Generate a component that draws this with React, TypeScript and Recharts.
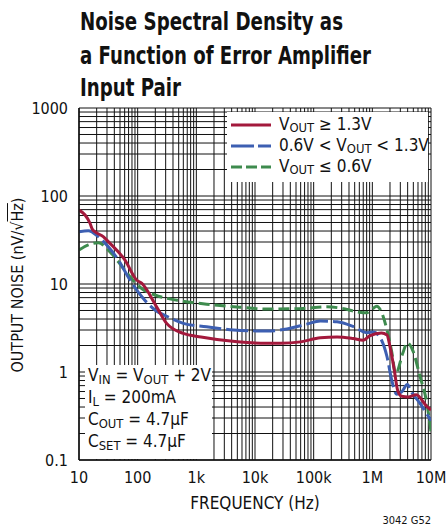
import { CartesianGrid, ComposedChart, Line, XAxis, YAxis } from "recharts";

const FONT = '"Liberation Sans Narrow", "DejaVu Sans Condensed", "Roboto Condensed", Roboto, sans-serif';

// frequency (Hz) / output noise (nV/rtHz)
const hiFreq = [10, 12.7, 15.4, 16.9, 18.7, 25.9, 31.6, 60.8, 96, 117, 210, 312, 600, 1200, 5000, 16000, 27000, 60000, 130000, 250000, 470000, 700000, 900000, 1430000, 1780000, 2000000, 2370000, 2700000, 3160000, 4100000, 5600000, 8400000, 10000000];
const hiNoise = [69, 60.8, 49, 41.9, 39.3, 34.5, 30.3, 18.7, 11.1, 10.2, 5.5, 3.57, 2.74, 2.5, 2.2, 2.12, 2.12, 2.2, 2.45, 2.5, 2.4, 2.3, 2.58, 2.78, 2.63, 1.94, 1.05, 0.62, 0.53, 0.52, 0.55, 0.41, 0.37];

const midFreq = [10, 14.4, 21.3, 31.6, 46.8, 74, 117, 197, 312, 600, 1500, 4300, 16000, 35000, 76000, 130000, 250000, 470000, 800000, 1040000, 1430000, 1780000, 2140000, 2600000, 3200000, 3950000, 4600000, 6500000, 10000000];
const midNoise = [39.3, 40.3, 34.5, 26.5, 18.7, 11.1, 7.2, 5.07, 4.3, 3.57, 3.27, 3.0, 2.92, 3.08, 3.5, 3.8, 3.73, 3.3, 2.8, 2.85, 2.31, 1.49, 0.81, 0.56, 0.6, 0.72, 0.6, 0.44, 0.28];

const loFreq = [10, 14.4, 21.3, 31.6, 46.8, 74, 117, 197, 430, 1500, 5500, 16000, 58000, 167000, 300000, 540000, 800000, 1000000, 1190000, 1430000, 1780000, 2140000, 2500000, 3300000, 3950000, 4900000, 6500000, 8400000, 10000000];
const loNoise = [24.3, 27.8, 29.5, 24.3, 17.9, 12.1, 8.9, 7.5, 6.6, 5.9, 5.45, 5.2, 5.25, 5.5, 5.3, 4.84, 4.7, 5.2, 5.6, 4.8, 3.0, 1.7, 0.95, 1.63, 2.15, 1.75, 0.89, 0.46, 0.21];

const xMajor = [10, 100, 1000, 10000, 100000, 1000000, 10000000];
const xLabels = ["10", "100", "1k", "10k", "100k", "1M", "10M"];
const yMajor = [0.1, 1, 10, 100, 1000];
const yLabels = ["0.1", "1", "10", "100", "1000"];
const minorSteps = [1, 2, 3, 4, 5, 6, 7, 8, 9];

const titleLines = ["Noise Spectral Density as", "a Function of Error Amplifier", "Input Pair"];
const seriesNames = ["VOUT ≥ 1.3V", "0.6V < VOUT < 1.3V", "VOUT ≤ 0.6V"];

const toRows = (f: number[], v: number[]) => f.map((x, i) => ({ f: x, v: v[i] }));
const hiData = toRows(hiFreq, hiNoise);
const midData = toRows(midFreq, midNoise);
const loData = toRows(loFreq, loNoise);

const gridTicks = (majors: number[]) => {
  const out: number[] = [];
  majors.slice(0, -1).forEach((m) => minorSteps.forEach((k) => out.push(m * k)));
  out.push(majors[majors.length - 1]);
  return out;
};
const xTicks = gridTicks(xMajor);
const yTicks = gridTicks(yMajor);

const labelFor = (majors: number[], labels: string[]) => (v: number) => {
  const i = majors.findIndex((m) => Math.abs(m - v) / m < 1e-6);
  return i >= 0 ? labels[i] : "";
};

const RED = "#a3193c";
const BLUE = "#3d5fb2";
const GREEN = "#3e8b4e";

const Sub = ({ children }: { children: string }) => (
  <span style={{ fontSize: "0.76em", position: "relative", top: "0.22em" }}>{children}</span>
);

const Vout = () => (
  <>
    V<Sub>OUT</Sub>
  </>
);

// title line baselines / widths as measured on the reference
const titleBase = [30, 64, 96];
const titleWidth = [263, 291, 101];

export default function App() {
  return (
    <div style={{ position: "relative", width: 446, height: 527, background: "#fff", fontFamily: FONT, color: "#111" }}>
      <style>{`body{margin:0}`}</style>
      <svg width={446} height={104} style={{ position: "absolute", left: 0, top: 0 }}>
        {titleLines.map((t, i) => (
          <text
            key={t}
            x={80}
            y={titleBase[i]}
            fontSize={25}
            fontWeight={700}
            fontFamily={FONT}
            fill="#111"
            textLength={titleWidth[i]}
            lengthAdjust="spacingAndGlyphs"
          >
            {t}
          </text>
        ))}
      </svg>

      <ComposedChart width={446} height={527} margin={{ top: 108, right: 15, bottom: 37, left: 0 }}>
        <CartesianGrid stroke="#111" strokeWidth={1} />
        <XAxis
          dataKey="f"
          type="number"
          scale="log"
          domain={[10, 10000000]}
          ticks={xTicks}
          interval={0}
          allowDataOverflow
          tickFormatter={labelFor(xMajor, xLabels)}
          tickLine={false}
          tickSize={0}
          tickMargin={12}
          height={30}
          axisLine={{ stroke: "#111", strokeWidth: 1.5 }}
          tick={{ fill: "#111", fontSize: 16, fontFamily: FONT }}
        />
        <YAxis
          type="number"
          scale="log"
          domain={[0.1, 1000]}
          ticks={yTicks}
          interval={0}
          allowDataOverflow
          tickFormatter={labelFor(yMajor, yLabels)}
          tickLine={false}
          tickSize={0}
          tickMargin={11}
          width={79}
          axisLine={{ stroke: "#111", strokeWidth: 1.5 }}
          tick={{ fill: "#111", fontSize: 16, fontFamily: FONT }}
        />
        <Line
          data={loData}
          dataKey="v"
          type="monotone"
          stroke={GREEN}
          strokeWidth={3}
          strokeDasharray="11 5"
          dot={false}
          isAnimationActive={false}
        />
        <Line
          data={midData}
          dataKey="v"
          type="monotone"
          stroke={BLUE}
          strokeWidth={3}
          strokeDasharray="22 5"
          dot={false}
          isAnimationActive={false}
        />
        <Line
          data={hiData}
          dataKey="v"
          type="monotone"
          stroke={RED}
          strokeWidth={3}
          dot={false}
          isAnimationActive={false}
        />
      </ComposedChart>

      {/* legend box */}
      <div
        style={{
          position: "absolute",
          left: 227,
          top: 112,
          width: 201,
          height: 70,
          background: "#fff",
          fontSize: 17,
        }}
      >
        {[
          { c: RED, d: undefined, label: <><Vout /> ≥ 1.3V</> },
          { c: BLUE, d: "23 4", label: <>0.6V &lt; <Vout /> &lt; 1.3V</> },
          { c: GREEN, d: "11 4", label: <><Vout /> ≤ 0.6V</> },
        ].map((e, i) => (
          <div
            key={seriesNames[i]}
            style={{ position: "absolute", left: 4, top: 2 + i * 21, height: 21, display: "flex", alignItems: "center" }}
          >
            <svg width={40} height={6} style={{ marginRight: 8 }}>
              <line x1={0} y1={3} x2={40} y2={3} stroke={e.c} strokeWidth={3} strokeDasharray={e.d} />
            </svg>
            <span style={{ whiteSpace: "nowrap", lineHeight: "21px" }}>{e.label}</span>
          </div>
        ))}
      </div>

      {/* conditions box */}
      <div
        style={{
          position: "absolute",
          left: 85,
          top: 365,
          width: 127,
          height: 94,
          background: "#fff",
          fontSize: 17,
          lineHeight: "21px",
          paddingLeft: 3,
          boxSizing: "border-box",
          whiteSpace: "nowrap",
        }}
      >
        <div>
          V<Sub>IN</Sub> = <Vout /> + 2V
        </div>
        <div>
          I<Sub>L</Sub> = 200mA
        </div>
        <div>
          C<Sub>OUT</Sub> = 4.7μF
        </div>
        <div>
          C<Sub>SET</Sub> = 4.7μF
        </div>
      </div>

      <div
        style={{
          position: "absolute",
          left: 18 - 110,
          top: 285 - 10,
          width: 220,
          height: 20,
          lineHeight: "20px",
          textAlign: "center",
          fontSize: 16,
          transform: "rotate(-90deg)",
          whiteSpace: "nowrap",
        }}
      >
        OUTPUT NOISE (nV/√<span style={{ textDecoration: "overline" }}>Hz</span>)
      </div>

      <div
        style={{
          position: "absolute",
          left: 155,
          width: 200,
          top: 493,
          textAlign: "center",
          fontSize: 17,
          lineHeight: "20px",
        }}
      >
        FREQUENCY (Hz)
      </div>

      <div style={{ position: "absolute", right: 15, top: 515, fontSize: 11, lineHeight: "12px" }}>3042 G52</div>
    </div>
  );
}
